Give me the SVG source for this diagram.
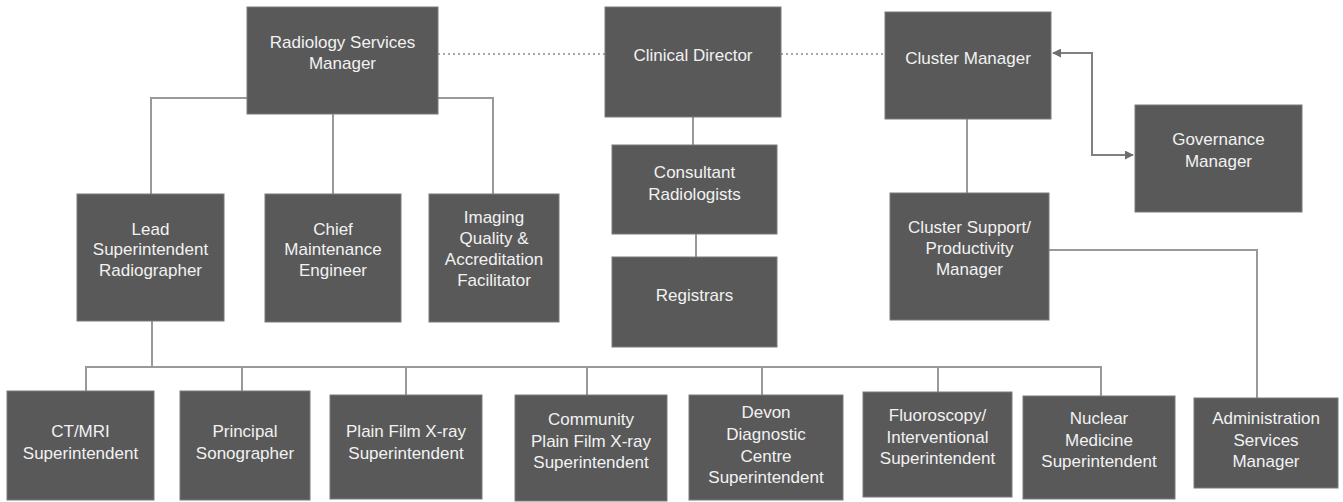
<svg xmlns="http://www.w3.org/2000/svg" width="1343" height="502" viewBox="0 0 1343 502">
<style>
.box{fill:#595959;stroke:#7a7a7a;stroke-width:1}
.t{font-family:"Liberation Sans",Arial,sans-serif;font-size:17px;fill:#f2f2f2;text-anchor:middle}
.ln{fill:none;stroke:#999999;stroke-width:2}
.dot{fill:none;stroke:#8c8c8c;stroke-width:1.5;stroke-dasharray:2 3}
.arr{fill:none;stroke:#808080;stroke-width:2}
</style>
<defs>
<marker id="ah" viewBox="0 0 10 10" refX="9" refY="5" markerWidth="4.5" markerHeight="4.5" orient="auto-start-reverse" markerUnits="strokeWidth">
<path d="M0,0 L10,5 L0,10 z" fill="#6e6e6e"/>
</marker>
</defs>
<rect width="1343" height="502" fill="#ffffff"/>
<g id="connectors">
<path class="ln" d="M151,194 V98 H493 V194"/>
<path class="ln" d="M333,114 V194"/>
<path class="ln" d="M693,117 V145"/>
<path class="ln" d="M696,234 V257"/>
<path class="ln" d="M967,119 V193"/>
<path class="ln" d="M1049,250 H1257 V398"/>
<path class="ln" d="M152,321 V367"/>
<path class="ln" d="M86,391 V367 H1101 V396"/>
<path class="ln" d="M242,367 V391"/>
<path class="ln" d="M406,367 V395"/>
<path class="ln" d="M587,367 V395"/>
<path class="ln" d="M762,367 V395"/>
<path class="ln" d="M938,367 V392"/>
<path class="dot" d="M438,54 H605"/>
<path class="dot" d="M781,54 H885"/>
<path class="arr" d="M1053,53 H1092 V155 H1133" marker-start="url(#ah)" marker-end="url(#ah)"/>
</g>
<g id="rsm"><rect class="box" x="247" y="7" width="191" height="107"/><text class="t" x="342.5" y="48">Radiology Services</text><text class="t" x="342.5" y="69">Manager</text></g>
<g id="clinical-director"><rect class="box" x="605" y="7" width="176" height="110"/><text class="t" x="693" y="61">Clinical Director</text></g>
<g id="cluster-manager"><rect class="box" x="885" y="12" width="166" height="107"/><text class="t" x="968" y="64">Cluster Manager</text></g>
<g id="governance-manager"><rect class="box" x="1135" y="105" width="167" height="107"/><text class="t" x="1218.5" y="145">Governance</text><text class="t" x="1218.5" y="167">Manager</text></g>
<g id="lead"><rect class="box" x="77" y="194" width="147" height="127"/><text class="t" x="150.5" y="235">Lead</text><text class="t" x="150.5" y="255">Superintendent</text><text class="t" x="150.5" y="276">Radiographer</text></g>
<g id="chief"><rect class="box" x="265" y="194" width="136" height="128"/><text class="t" x="333" y="235">Chief</text><text class="t" x="333" y="255">Maintenance</text><text class="t" x="333" y="276">Engineer</text></g>
<g id="imaging"><rect class="box" x="429" y="194" width="130" height="128"/><text class="t" x="494" y="223">Imaging</text><text class="t" x="494" y="244">Quality &amp;</text><text class="t" x="494" y="265">Accreditation</text><text class="t" x="494" y="286">Facilitator</text></g>
<g id="consultant"><rect class="box" x="612" y="145" width="165" height="89"/><text class="t" x="694.5" y="178">Consultant</text><text class="t" x="694.5" y="200">Radiologists</text></g>
<g id="registrars"><rect class="box" x="612" y="257" width="165" height="90"/><text class="t" x="694.5" y="301">Registrars</text></g>
<g id="cluster-support"><rect class="box" x="890" y="193" width="159" height="127"/><text class="t" x="969.5" y="233">Cluster Support/</text><text class="t" x="969.5" y="254">Productivity</text><text class="t" x="969.5" y="275">Manager</text></g>
<g id="ctmri"><rect class="box" x="7" y="391" width="147" height="109"/><text class="t" x="80.5" y="437">CT/MRI</text><text class="t" x="80.5" y="459">Superintendent</text></g>
<g id="sonographer"><rect class="box" x="180" y="391" width="130" height="109"/><text class="t" x="245" y="437">Principal</text><text class="t" x="245" y="459">Sonographer</text></g>
<g id="plainfilm"><rect class="box" x="330" y="395" width="152" height="104"/><text class="t" x="406" y="437">Plain Film X-ray</text><text class="t" x="406" y="459">Superintendent</text></g>
<g id="community"><rect class="box" x="515" y="395" width="152" height="106"/><text class="t" x="591" y="425">Community</text><text class="t" x="591" y="447">Plain Film X-ray</text><text class="t" x="591" y="468">Superintendent</text></g>
<g id="devon"><rect class="box" x="689" y="395" width="154" height="105"/><text class="t" x="766" y="418">Devon</text><text class="t" x="766" y="440">Diagnostic</text><text class="t" x="766" y="462">Centre</text><text class="t" x="766" y="483">Superintendent</text></g>
<g id="fluoroscopy"><rect class="box" x="863" y="392" width="149" height="105"/><text class="t" x="937.5" y="421">Fluoroscopy/</text><text class="t" x="937.5" y="443">Interventional</text><text class="t" x="937.5" y="464">Superintendent</text></g>
<g id="nuclear"><rect class="box" x="1023" y="396" width="152" height="103"/><text class="t" x="1099" y="424">Nuclear</text><text class="t" x="1099" y="446">Medicine</text><text class="t" x="1099" y="467">Superintendent</text></g>
<g id="admin"><rect class="box" x="1194" y="398" width="144" height="90"/><text class="t" x="1266" y="424">Administration</text><text class="t" x="1266" y="446">Services</text><text class="t" x="1266" y="467">Manager</text></g>
</svg>
